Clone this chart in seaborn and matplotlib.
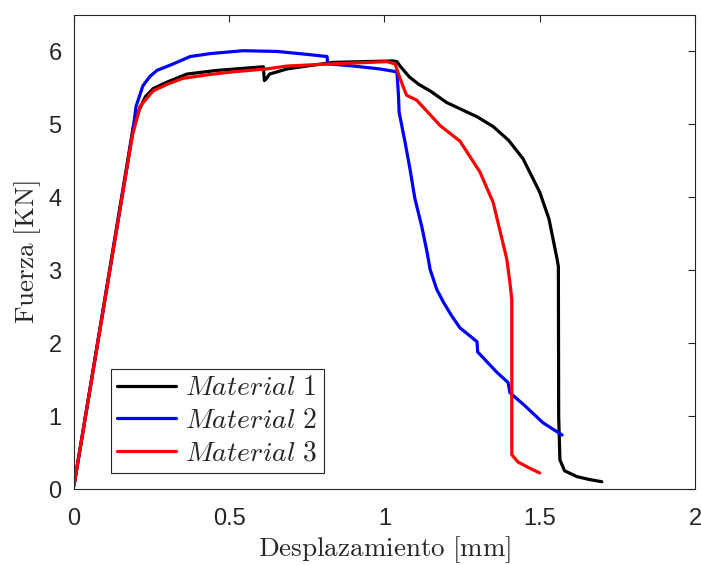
import matplotlib
matplotlib.use("Agg")
import matplotlib.pyplot as plt
import seaborn as sns
import pandas as pd

# Material 1 (black)
m1_x = [0, 0.19, 0.21, 0.23, 0.255, 0.30, 0.364, 0.46, 0.55, 0.61, 0.613, 0.62, 0.63, 0.686, 0.75,
        0.835, 0.93, 1.027, 1.04, 1.05, 1.08, 1.11, 1.15, 1.2, 1.25, 1.3, 1.35, 1.4, 1.446, 1.5,
        1.53, 1.556, 1.56, 1.561, 1.565, 1.58, 1.62, 1.66, 1.70]
m1_y = [0.05, 4.95, 5.2, 5.38, 5.49, 5.58, 5.69, 5.74, 5.77, 5.79, 5.6, 5.63, 5.69, 5.76, 5.8,
        5.85, 5.86, 5.87, 5.86, 5.8, 5.65, 5.55, 5.45, 5.3, 5.2, 5.1, 4.97, 4.78, 4.53, 4.07,
        3.7, 3.15, 3.05, 1.0, 0.4, 0.25, 0.17, 0.13, 0.1]

# Material 2 (blue)
m2_x = [0, 0.187, 0.2, 0.222, 0.245, 0.267, 0.32, 0.374, 0.438, 0.544, 0.654, 0.75, 0.815, 0.817,
        0.9, 0.985, 1.04, 1.045, 1.047, 1.066, 1.082, 1.098, 1.12, 1.137, 1.147, 1.168, 1.19,
        1.217, 1.243, 1.298, 1.30, 1.362, 1.398, 1.404, 1.45, 1.51, 1.572]
m2_y = [0.05, 4.83, 5.25, 5.53, 5.66, 5.74, 5.83, 5.93, 5.97, 6.01, 6.0, 5.96, 5.93, 5.83,
        5.8, 5.76, 5.72, 5.4, 5.17, 4.76, 4.39, 3.98, 3.6, 3.25, 3.01, 2.74, 2.56,
        2.37, 2.21, 2.02, 1.88, 1.60, 1.46, 1.32, 1.15, 0.91, 0.74]

# Material 3 (red)
m3_x = [0, 0.187, 0.213, 0.255, 0.30, 0.35, 0.43, 0.512, 0.62, 0.686, 0.835, 1.008, 1.034, 1.05,
        1.071, 1.104, 1.18, 1.243, 1.307, 1.35, 1.394, 1.404, 1.41, 1.41, 1.43, 1.47, 1.50]
m3_y = [0.05, 4.83, 5.25, 5.46, 5.55, 5.63, 5.68, 5.72, 5.76, 5.8, 5.83, 5.86, 5.83, 5.63,
        5.40, 5.33, 4.98, 4.77, 4.35, 3.93, 3.15, 2.83, 2.6, 0.47, 0.37, 0.28, 0.22]

labels = [r"$Material\ 1$", r"$Material\ 2$", r"$Material\ 3$"]
colors = ["#000000", "#0000ff", "#ff0000"]
x_ticks = [0, 0.5, 1, 1.5, 2]
x_ticklabels = ["0", "0.5", "1", "1.5", "2"]
y_ticks = [0, 1, 2, 3, 4, 5, 6]

sns.set_theme(style="white")
plt.rcParams["font.family"] = ["Liberation Sans", "DejaVu Sans"]
plt.rcParams["mathtext.fontset"] = "cm"

fig = plt.figure(figsize=(7.01, 5.65), dpi=100)
ax = fig.add_axes([0.1056, 0.1345, 0.8858, 0.839])

for xs, ys, lab, col in zip([m1_x, m2_x, m3_x], [m1_y, m2_y, m3_y], labels, colors):
    df = pd.DataFrame({"x": xs, "y": ys})
    sns.lineplot(data=df, x="x", y="y", sort=False, estimator=None, color=col,
                 linewidth=2.3, label=lab, ax=ax)

ax.set_xlim(0, 2)
ax.set_ylim(0, 6.5)
ax.set_xticks(x_ticks)
ax.set_xticklabels(x_ticklabels)
ax.set_yticks(y_ticks)
ax.tick_params(direction="in", length=5, width=0.8, colors="#262626", labelsize=17,
               top=True, right=True)
ax.tick_params(axis="x", pad=14)
ax.tick_params(axis="y", pad=9)
for s in ax.spines.values():
    s.set_color("#262626")
    s.set_linewidth(0.8)
    s.set_visible(True)

ax.set_xlabel(r"$\mathrm{Desplazamiento\ [mm]}$", fontsize=19.5, color="#262626", labelpad=3)
ax.set_ylabel(r"$\mathrm{Fuerza\ [KN]}$", fontsize=19.5, color="#262626", labelpad=4)

leg = ax.legend(loc="lower left", bbox_to_anchor=(0.06, 0.034), fontsize=20, frameon=True,
                fancybox=False, edgecolor="#262626", framealpha=1, handlelength=2.1,
                borderpad=0.22, labelspacing=0.24, handletextpad=0.35, borderaxespad=0)
leg.get_frame().set_linewidth(0.8)

fig.savefig("out.png", dpi=100)
